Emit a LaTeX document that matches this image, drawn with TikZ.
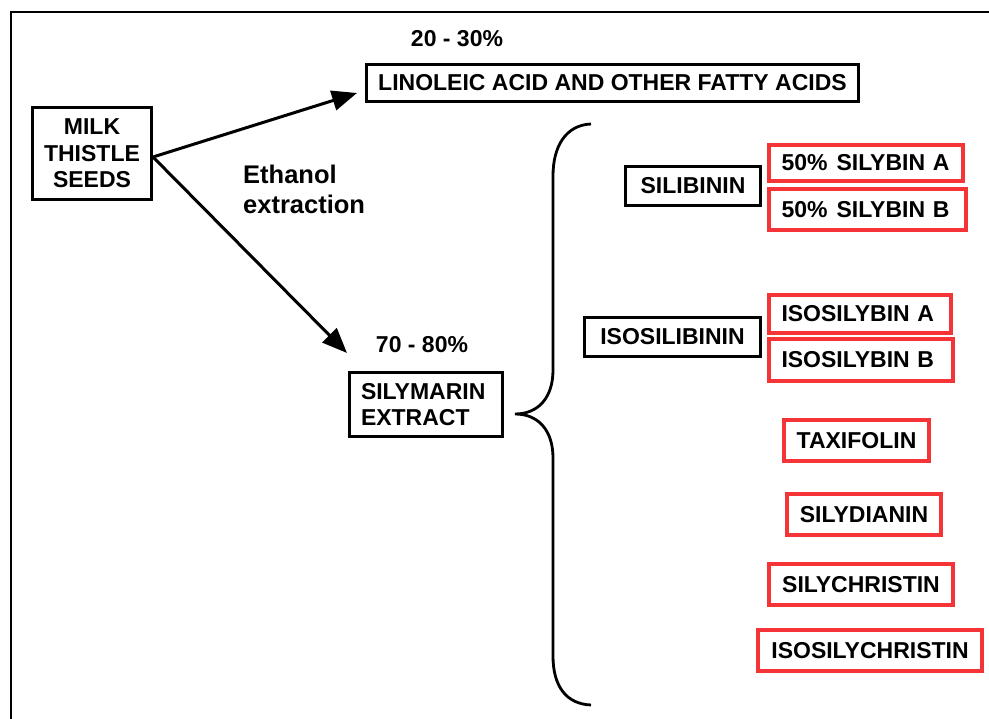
\documentclass[tikz,border=0pt]{standalone}
\usepackage{fontspec}
\setmainfont{Liberation Sans}
\usetikzlibrary{arrows.meta}
\definecolor{boxred}{RGB}{245,52,56}
\tikzset{
  every node/.style={font=\fontsize{23}{26.5}\selectfont\bfseries},
  bbox/.style={draw=black, line width=2.8pt, inner sep=0pt, align=center},
  rbox/.style={draw=boxred, line width=4.4pt, inner sep=0pt, align=center},
  lbl/.style={inner sep=0pt},
  arr/.style={line width=3pt, -{Triangle[length=25pt,width=20pt]}},
  frame/.style={line width=2.8pt},
  bracestyle/.style={line width=2.8pt}
}
\begin{document}
\begin{tikzpicture}[x=1pt,y=-1pt]
\useasboundingbox (0,0) rectangle (989,719);
% outer frame
\draw[frame] (11,719) -- (11,12) -- (989,12);

% nodes
\node[bbox, minimum width=119pt, minimum height=92pt] (milk) at (92,153.5) {MILK\\THISTLE\\SEEDS};
\node[bbox, minimum width=492pt, minimum height=37pt] (lin) at (612.5,83) {LINOLEIC ACID AND OTHER FATTY ACIDS};
\node[lbl] (p1) at (457,39) {20 - 30\%};
\node[lbl] (p2) at (422,345) {70 - 80\%};
\node[bbox, minimum height=64pt, text width=130pt, inner xsep=11.5pt, align=left] (sily) at (426,404.5) {SILYMARIN\\EXTRACT};
\node[lbl, anchor=north west, align=left, font=\fontsize{25.5}{30}\selectfont\bfseries] (eth) at (243,164.5) {Ethanol\\extraction};

\node[bbox, minimum width=135pt, minimum height=39pt] (silib) at (693,186) {SILIBININ};
\node[bbox, minimum width=176pt, minimum height=39pt] (isosilib) at (672.5,337) {ISOSILIBININ};

\node[rbox, minimum height=36pt, text width=169pt, inner xsep=12.5pt, align=left] (sA) at (866,163) {50\%\hspace{9pt}SILYBIN A};
\node[rbox, minimum height=41pt, text width=172pt, inner xsep=12.5pt, align=left] (sB) at (867.5,209.5) {50\%\hspace{9pt}SILYBIN B};
\node[rbox, minimum height=38pt, text width=157pt, inner xsep=12.5pt, align=left] (iA) at (860,314) {ISOSILYBIN A};
\node[rbox, minimum height=42pt, text width=159pt, inner xsep=12.5pt, align=left] (iB) at (861,360) {ISOSILYBIN B};
\node[rbox, minimum width=145pt, minimum height=41pt] (taxi) at (856.5,440.5) {TAXIFOLIN};
\node[rbox, minimum width=154pt, minimum height=41pt] (silyd) at (864,514.5) {SILYDIANIN};
\node[rbox, minimum width=184pt, minimum height=41pt] (silyc) at (861,584.5) {SILYCHRISTIN};
\node[rbox, minimum width=224pt, minimum height=41pt] (isosilyc) at (870,650.5) {ISOSILYCHRISTIN};

% arrows
\coordinate (t1) at (357,93);
\coordinate (t2) at (347,353);
\coordinate (s0) at (153,157);
\draw[arr] (s0) -- (t1);
\draw[arr] (s0) -- (t2);

% brace
\draw[bracestyle] (591,124) .. controls (566,125) and (553,146) .. (553,176)
  -- (553,370) .. controls (553,398) and (538,414) .. (515,414)
  .. controls (538,414) and (553,430) .. (553,458)
  -- (553,656) .. controls (553,686) and (566,704) .. (591,705);
\end{tikzpicture}
\end{document}
